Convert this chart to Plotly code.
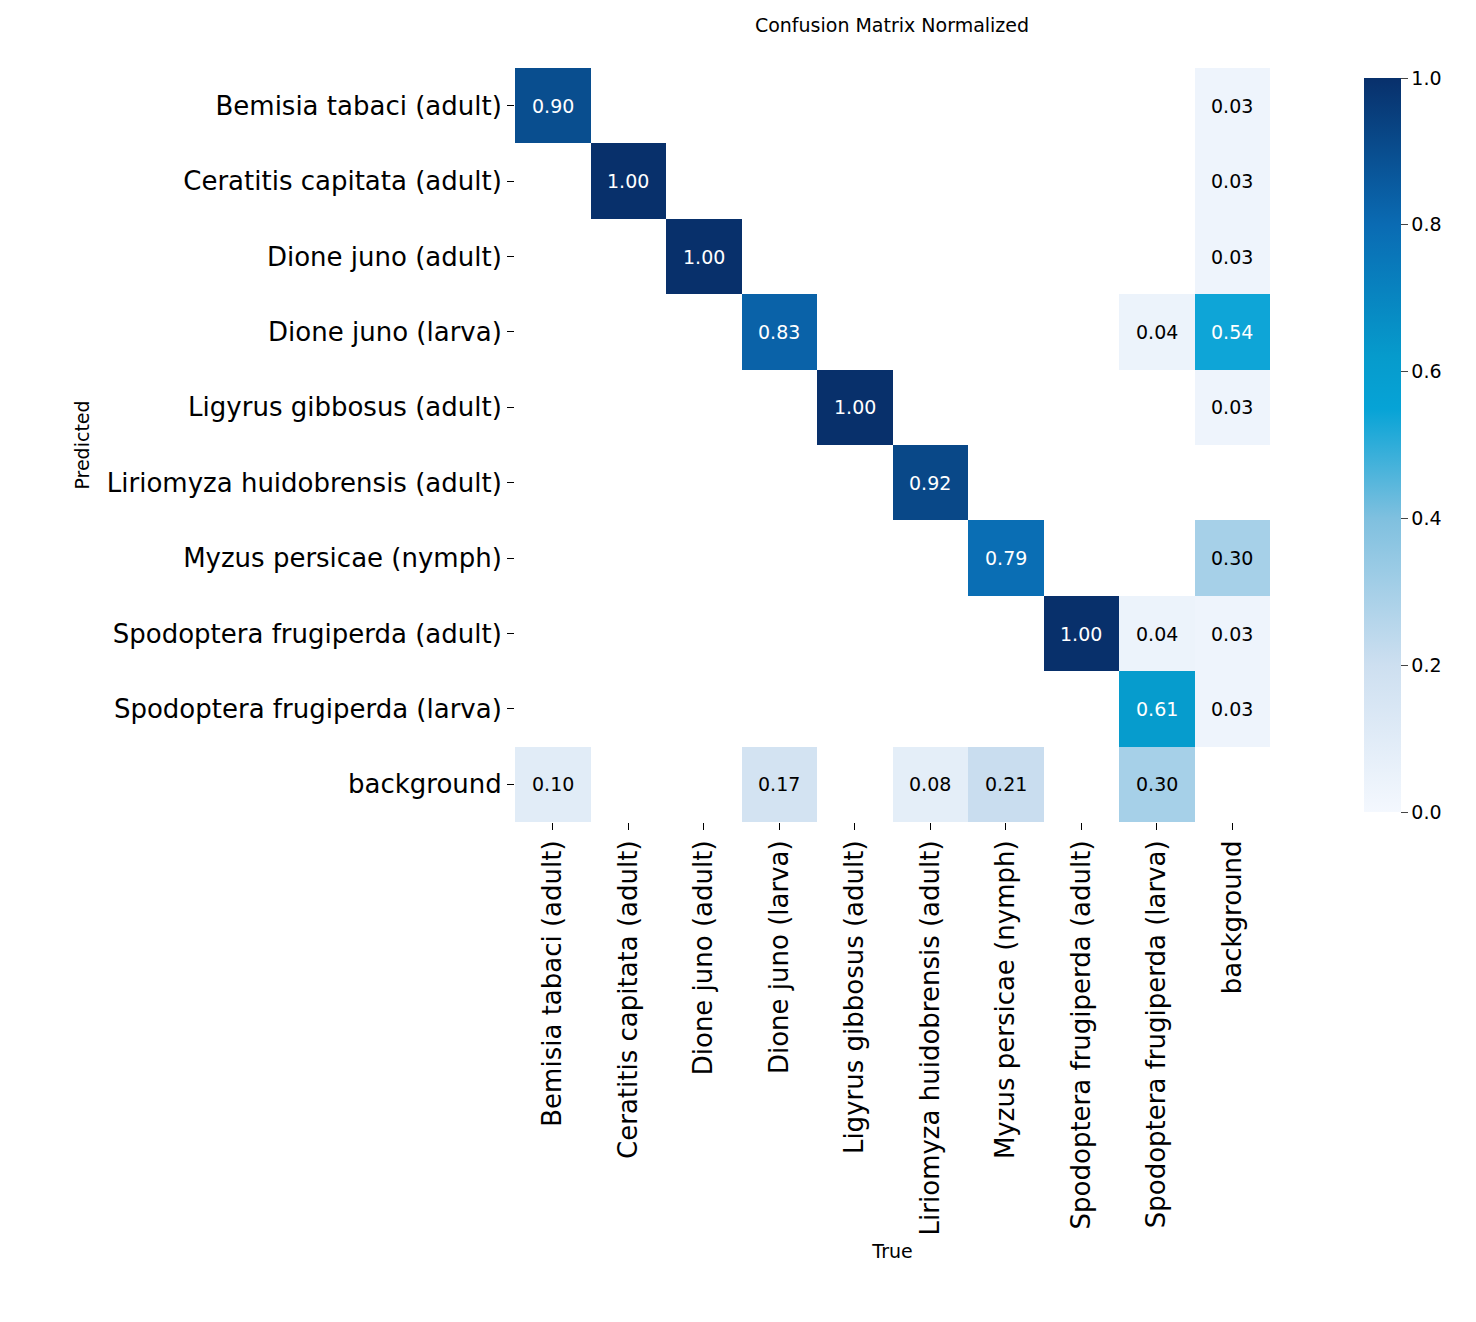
import plotly.graph_objects as go

labels = ["Bemisia tabaci (adult)", "Ceratitis capitata (adult)", "Dione juno (adult)",
          "Dione juno (larva)", "Ligyrus gibbosus (adult)", "Liriomyza huidobrensis (adult)",
          "Myzus persicae (nymph)", "Spodoptera frugiperda (adult)", "Spodoptera frugiperda (larva)",
          "background"]
N = None
z = [
    [0.90, N, N, N, N, N, N, N, N, 0.03],
    [N, 1.00, N, N, N, N, N, N, N, 0.03],
    [N, N, 1.00, N, N, N, N, N, N, 0.03],
    [N, N, N, 0.83, N, N, N, N, 0.04, 0.54],
    [N, N, N, N, 1.00, N, N, N, N, 0.03],
    [N, N, N, N, N, 0.92, N, N, N, N],
    [N, N, N, N, N, N, 0.79, N, N, 0.30],
    [N, N, N, N, N, N, N, 1.00, 0.04, 0.03],
    [N, N, N, N, N, N, N, N, 0.61, 0.03],
    [0.10, N, N, 0.17, N, 0.08, 0.21, N, 0.30, N],
]

cs = [[0, "#f4f8fe"], [0.2, "#cddff0"], [0.4, "#7fc0df"], [0.55, "#06a3d6"],
      [0.62, "#069bcc"], [0.8, "#0a6bb3"], [1, "#08306b"]]

font = "DejaVu Sans"
fig = go.Figure(go.Heatmap(
    z=z, x=labels, y=labels, zmin=0, zmax=1, colorscale=cs, xgap=0, ygap=0,
    hoverongaps=False,
    colorbar=dict(x=1.111, xanchor="left", y=1, yanchor="top", len=1, lenmode="fraction",
                  thickness=37, outlinewidth=0, ticks="outside", ticklen=7,
                  tickvals=[0, 0.2, 0.4, 0.6, 0.8, 1.0], ticktext=["0.0", "0.2", "0.4", "0.6", "0.8", "1.0"],
                  tickfont=dict(family=font, size=19, color="black"))))

for i, row in enumerate(z):
    for j, v in enumerate(row):
        if v is not None:
            fig.add_annotation(x=labels[j], y=labels[i], text=f"{v:.2f}", showarrow=False,
                               font=dict(family=font, size=19, color="white" if v > 0.5 else "black"))

fig.update_layout(
    width=1476, height=1322, paper_bgcolor="white", plot_bgcolor="white",
    margin=dict(l=507, r=214, t=60, b=508),
    title=dict(text="Confusion Matrix Normalized", x=(884 / 1476), xanchor="center", y=0.992, yanchor="top",
               font=dict(family=font, size=19, color="black")),
    font=dict(family=font, color="black"),
)
fig.update_xaxes(tickangle=-90, ticks="outside", ticklen=7, tickcolor="black", showgrid=False, zeroline=False,
                 tickfont=dict(family=font, size=26), title=dict(text="True", font=dict(size=19), standoff=10))
fig.update_yaxes(autorange="reversed", ticks="outside", ticklen=7, tickcolor="black", showgrid=False, zeroline=False,
                 tickfont=dict(family=font, size=26), title=dict(text="Predicted", font=dict(size=19), standoff=12))
fig.write_html("out.html")
